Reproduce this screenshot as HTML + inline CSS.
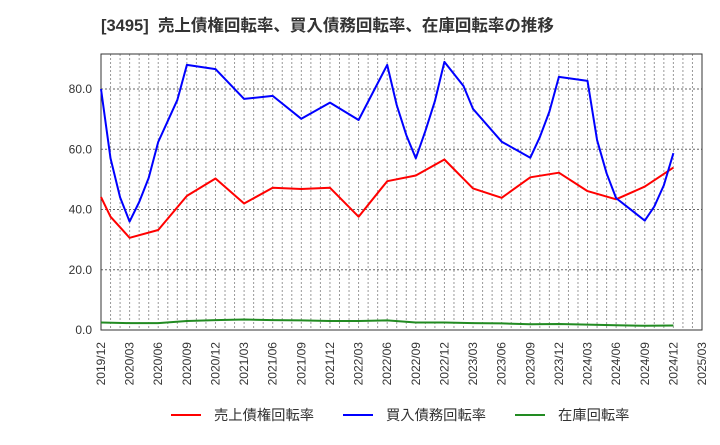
<!DOCTYPE html>
<html><head><meta charset="utf-8"><style>
body{margin:0;background:#fff;width:720px;height:440px;overflow:hidden;font-family:"Liberation Sans","Noto Sans CJK JP",sans-serif;}
</style></head><body>
<svg id="chart" width="720" height="440" xmlns="http://www.w3.org/2000/svg" font-family="Liberation Sans, Noto Sans CJK JP, sans-serif">
<text x="101" y="31" font-size="16.5" font-weight="bold" fill="#333" xml:space="preserve">[3495]  売上債権回転率、買入債務回転率、在庫回転率の推移</text>
<g id="grid"></g><g id="axes"></g><g id="series"></g>
<g>
<g><line x1="171" y1="415" x2="201" y2="415" stroke="#ff0000" stroke-width="2"/><text x="214" y="420" font-size="14.3" fill="#333">売上債権回転率</text></g>
<g><line x1="343" y1="415" x2="373" y2="415" stroke="#0000ff" stroke-width="2"/><text x="386" y="420" font-size="14.3" fill="#333">買入債務回転率</text></g>
<g><line x1="515" y1="415" x2="545" y2="415" stroke="#228b22" stroke-width="2"/><text x="558" y="420" font-size="14.3" fill="#333">在庫回転率</text></g>
</g>
</svg>
<script>
const xTickLabels=["2019/12","2020/03","2020/06","2020/09","2020/12","2021/03","2021/06","2021/09","2021/12","2022/03","2022/06","2022/09","2022/12","2023/03","2023/06","2023/09","2023/12","2024/03","2024/06","2024/09","2024/12","2025/03"];
const yTicks=[0,20,40,60,80];
const recvMonths=[0,1,3,6,9,12,15,18,21,24,27,30,33,36,39,42,45,48,51,54,57,60];
const recvValues=[44.1,37.6,30.6,33.2,44.5,50.3,42,47.2,46.8,47.2,37.6,49.4,51.3,56.6,47,43.9,50.7,52.2,46.1,43.4,47.6,53.9];
const payMonths=[0,1,2,3,4,5,6,8,9,12,15,18,21,24,27,30,31,32,33,34,35,36,38,39,42,45,46,47,48,51,52,53,54,57,58,59,60];
const payValues=[80,57,44,36,42.5,50.5,62.4,76.3,88,86.6,76.7,77.7,70.1,75.5,69.7,88,74.7,64.7,57,66,76,89,81,73.4,62.5,57.2,64,72.5,84,82.7,63,52,43.8,36.3,41,48,58.7];
const invMonths=[0,3,6,9,12,15,18,21,24,27,30,33,36,39,42,45,48,51,54,57,60];
const invValues=[2.5,2.3,2.3,3,3.3,3.5,3.3,3.2,3,3,3.2,2.5,2.5,2.3,2.2,1.9,2,1.8,1.6,1.4,1.5];
const X0=101,X1=702,Y0=330,YT=54,NM=63;
const xs=m=>X0+(X1-X0)*m/NM;
const ys=v=>Y0-(Y0-89)*v/80;
const NS="http://www.w3.org/2000/svg";
function mk(tag,attrs,parent){const e=document.createElementNS(NS,tag);for(const k in attrs)e.setAttribute(k,attrs[k]);parent.appendChild(e);return e;}
const grid=document.getElementById('grid'),axes=document.getElementById('axes'),ser=document.getElementById('series');
for(let m=1;m<NM;m++){const l=mk('line',{x1:xs(m),x2:xs(m),y1:YT,y2:Y0,stroke:'#999','stroke-width':1,'stroke-dasharray':'2,2'},grid);

}
yTicks.forEach(v=>{if(v>0){const l=mk('line',{x1:X0,x2:X1,y1:ys(v),y2:ys(v),stroke:'#666','stroke-width':1,'stroke-dasharray':'2,2'},grid);

}
const t=mk('text',{x:92,y:ys(v)+4,'text-anchor':'end','font-size':12,fill:'#333'},axes);t.textContent=v.toFixed(1);

});
const frame=mk('rect',{x:X0,y:YT,width:X1-X0,height:Y0-YT,fill:'none',stroke:'#333','stroke-width':1},axes);


xTickLabels.forEach((s,i)=>{const x=xs(i*3);const t=mk('text',{x:0,y:0,transform:`translate(${x+4},342) rotate(-90)`,'text-anchor':'end','font-size':12,fill:'#333'},axes);t.textContent=s;

});
function line(ms,vs,color,name){const p=ms.map((m,i)=>xs(m).toFixed(1)+','+ys(vs[i]).toFixed(1)).join(' ');
const pl=mk('polyline',{points:p,fill:'none',stroke:color,'stroke-width':2,'stroke-linejoin':'round'},ser);

}
line(invMonths,invValues,'#228b22','inventory-turnover-line');
line(recvMonths,recvValues,'#ff0000','receivables-turnover-line');
line(payMonths,payValues,'#0000ff','payables-turnover-line');
</script>
</body></html>
